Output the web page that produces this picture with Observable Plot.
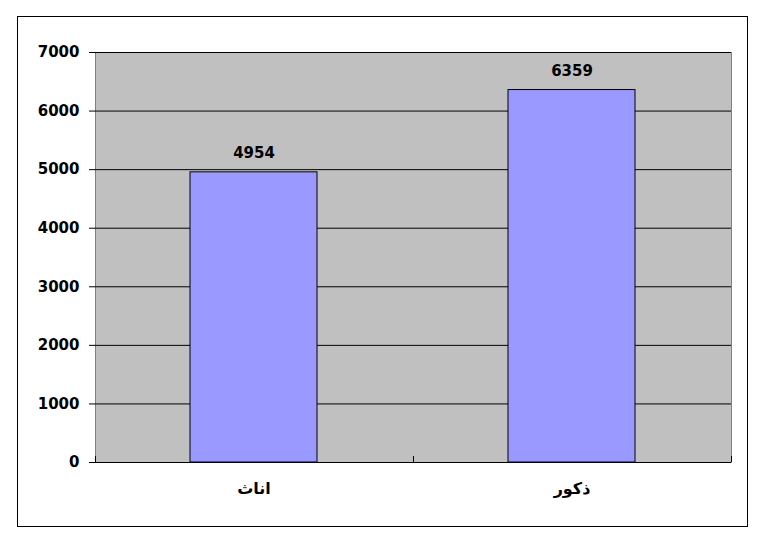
<!DOCTYPE html>
<html>
<head>
<meta charset="utf-8">
<script src="https://cdn.jsdelivr.net/npm/d3@7"></script>
<script src="https://cdn.jsdelivr.net/npm/@observablehq/plot@0.6"></script>
<style>
  html, body { margin: 0; padding: 0; background: white; }
  #wrap { position: relative; width: 760px; height: 537px; }
  #border { position: absolute; left: 17px; top: 16px; width: 729px; height: 509px; border: 1px solid black; pointer-events: none; }
</style>
</head>
<body>
<div id="wrap"><div id="border"></div></div>
<script>
const categories = ["اناث", "ذكور"];
const values = [4954, 6359];
const yTicks = [0, 1000, 2000, 3000, 4000, 5000, 6000, 7000];

const data = categories.map((c, i) => ({ category: c, value: values[i] }));

const plot = Plot.plot({
  width: 760,
  height: 537,
  marginLeft: 95,
  marginRight: 29,
  marginTop: 52,
  marginBottom: 75,
  style: { fontFamily: "DejaVu Sans, Liberation Sans, sans-serif", fontSize: "15px", fontWeight: "bold", background: "transparent", color: "black" },
  x: { domain: categories, paddingInner: 0.6, paddingOuter: 0.3, label: null, axis: null },
  y: { domain: [0, 7000], label: null, axis: null },
  marks: [
    Plot.frame({ fill: "#C0C0C0", stroke: "#808080" }),
    Plot.gridY(yTicks, { stroke: "black", strokeOpacity: 1, strokeWidth: 1 }),
    Plot.barY(data, { x: "category", y: "value", fill: "#9999FF", stroke: "black", strokeWidth: 1 }),
    Plot.text(data, { x: "category", y: "value", text: d => String(d.value), dy: -19, fontSize: 15, fontWeight: "bold", fill: "black" }),
    Plot.axisY(yTicks, { tickSize: 6, tickPadding: 10, tickFormat: d => String(d), fontSize: 15, fontWeight: "bold", stroke: "black", strokeOpacity: 1 }),
    Plot.axisX({ tickSize: 0, tickPadding: 20, fontSize: 16, fontWeight: "bold" }),
    Plot.ruleY([0], { stroke: "black", strokeWidth: 1 })
  ]
});

// small category-boundary tick marks pointing up into the plot area
const xs = plot.scale("x");
const ys = plot.scale("y");
const y0 = ys.apply(0);
const gap = (xs.step - xs.bandwidth) / 2;
const bounds = categories.map(c => xs.apply(c) - gap);
bounds.push(xs.apply(categories[categories.length - 1]) + xs.bandwidth + gap);
d3.select(plot).append("g")
  .selectAll("line").data(bounds).join("line")
  .attr("x1", d => Math.round(d) + 0.5).attr("x2", d => Math.round(d) + 0.5)
  .attr("y1", y0).attr("y2", y0 - 6)
  .attr("stroke", "black");

document.getElementById("wrap").prepend(plot);
</script>
</body>
</html>
